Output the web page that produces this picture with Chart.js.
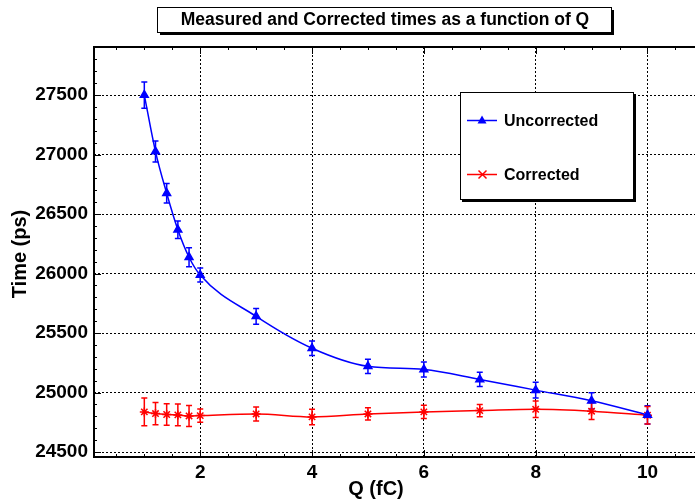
<!DOCTYPE html>
<html lang="en">
<head>
  <meta charset="UTF-8" />
  <title>Measured and Corrected times as a function of Q</title>
  <script src="https://cdn.jsdelivr.net/npm/chart.js"></script>
  <style>
    body{margin:0;padding:0;background:#fff;overflow:hidden}
    canvas{display:block}
  </style>
</head>
<body>
<canvas id="grafico" width="695" height="502"></canvas>
<script>
/* ---------- data ---------- */
const qValues        = [1, 1.2, 1.4, 1.6, 1.8, 2, 3, 4, 5, 6, 7, 8, 9, 10];
const uncorrected    = [27500, 27025, 26675, 26368, 26137, 25987, 25640, 25372, 25220, 25194, 25110, 25020, 24930, 24812];
const uncorrectedErr = [110, 88, 82, 74, 80, 59, 67, 60, 60, 63, 60, 66, 69, 77];
const corrected      = [24837, 24823, 24815, 24812, 24803, 24806, 24820, 24795, 24820, 24837, 24848, 24859, 24843, 24809];
const correctedErr   = [116, 94, 91, 91, 88, 56, 59, 65, 52, 56, 52, 69, 70, 73];

const xTicks = [2, 4, 6, 8, 10];
const yTicks = [24500, 25000, 25500, 26000, 26500, 27000, 27500];

const FONT = '"Liberation Sans", Arial, Helvetica, sans-serif';

function puntos(ys){ return qValues.map((q,i)=>({x:q, y:ys[i]})); }

/* ---------- frame, ticks, error bars, title, legend ---------- */
const marco = {
  id:'marco',
  beforeDatasetsDraw(chart){
    const {ctx, scales:{x, y}} = chart;
    const series = [[uncorrected, uncorrectedErr, '#0000ff'], [corrected, correctedErr, '#ff0000']];
    ctx.save();
    ctx.lineWidth = 1.5;
    series.forEach(([vals, errs, col])=>{
      ctx.strokeStyle = col;
      qValues.forEach((q,i)=>{
        const px = x.getPixelForValue(q);
        const y1 = y.getPixelForValue(vals[i]-errs[i]);
        const y2 = y.getPixelForValue(vals[i]+errs[i]);
        ctx.beginPath();
        ctx.moveTo(px, y1); ctx.lineTo(px, y2);
        ctx.moveTo(px-3, y1); ctx.lineTo(px+3, y1);
        ctx.moveTo(px-3, y2); ctx.lineTo(px+3, y2);
        ctx.stroke();
      });
    });
    ctx.restore();
  },
  afterDraw(chart){
    const {ctx, chartArea:a, scales:{x, y}} = chart;
    ctx.save();
    ctx.strokeStyle = '#000';

    // ticks (inward)
    ctx.lineWidth = 1;
    ctx.beginPath();
    for(let v=0.5; v<=10.85; v+=0.5){
      const px = Math.round(x.getPixelForValue(v))+0.5;
      const len = (Math.abs(v/2-Math.round(v/2))<1e-6) ? 7 : 3;
      ctx.moveTo(px, a.bottom); ctx.lineTo(px, a.bottom-len);
      ctx.moveTo(px, a.top); ctx.lineTo(px, a.top+len);
    }
    for(let v=24500; v<=27900; v+=100){
      const py = Math.round(y.getPixelForValue(v))+0.5;
      const len = (v%500===0) ? 7 : 3;
      ctx.moveTo(a.left, py); ctx.lineTo(a.left+len, py);
    }
    ctx.stroke();

    // axes lines
    ctx.lineWidth = 2;
    ctx.beginPath();
    ctx.moveTo(a.left, a.top); ctx.lineTo(a.right+2, a.top);
    ctx.moveTo(a.left, a.top-1); ctx.lineTo(a.left, a.bottom+1);
    ctx.moveTo(a.left-1, a.bottom); ctx.lineTo(a.right+2, a.bottom);
    ctx.stroke();

    // axis titles
    ctx.fillStyle = '#000';
    ctx.font = 'bold 20px ' + FONT;
    ctx.textAlign = 'center';
    ctx.textBaseline = 'middle';
    ctx.fillText('Q (fC)', 376, 489);
    ctx.save();
    ctx.translate(20, 254);
    ctx.rotate(-Math.PI/2);
    ctx.fillText('Time (ps)', 0, 0);
    ctx.restore();

    // title box
    ctx.fillStyle = '#000';
    ctx.fillRect(160, 10, 454, 25);
    ctx.fillStyle = '#fff';
    ctx.fillRect(158, 8, 454, 25);
    ctx.lineWidth = 1;
    ctx.strokeRect(157.5, 7.5, 454, 25);
    ctx.fillStyle = '#000';
    ctx.font = 'bold 17.5px ' + FONT;
    ctx.fillText('Measured and Corrected times as a function of Q', 385, 20.5);

    // legend box
    ctx.fillStyle = '#000';
    ctx.fillRect(462, 94, 174, 108);
    ctx.fillStyle = '#fff';
    ctx.fillRect(460, 92, 174, 108);
    ctx.strokeRect(460.5, 92.5, 173, 107);

    const items = chart.data.datasets;
    const filas = [120.5, 174.5];
    items.forEach((ds, i)=>{
      const yy = filas[i];
      ctx.strokeStyle = ds.borderColor;
      ctx.lineWidth = 1.5;
      ctx.beginPath(); ctx.moveTo(467, yy); ctx.lineTo(497, yy); ctx.stroke();
      ctx.fillStyle = ds.borderColor;
      ctx.beginPath();
      if(i===0){
        ctx.moveTo(482, yy-5); ctx.lineTo(486.5, yy+3); ctx.lineTo(477.5, yy+3); ctx.closePath(); ctx.fill();
      }else{
        ctx.moveTo(478.5, yy-4); ctx.lineTo(486.5, yy+4);
        ctx.moveTo(486.5, yy-4); ctx.lineTo(478.5, yy+4);
        ctx.stroke();
      }
      ctx.fillStyle = '#000';
      ctx.font = 'bold 16px ' + FONT;
      ctx.textAlign = 'left';
      ctx.fillText(ds.label, 504, yy+1);
    });
    ctx.restore();
  }
};

new Chart(document.getElementById('grafico'), {
  type:'line',
  data:{
    datasets:[
      {label:'Uncorrected', data:puntos(uncorrected), borderColor:'#0000ff', backgroundColor:'#0000ff',
       borderWidth:1.5, pointStyle:'triangle', pointRadius:4.5, cubicInterpolationMode:'monotone'},
      {label:'Corrected', data:puntos(corrected), borderColor:'#ff0000', backgroundColor:'#ff0000',
       borderWidth:1.5, pointStyle:'star', pointRadius:4.5, pointBorderWidth:1.5, cubicInterpolationMode:'monotone'}
    ]
  },
  options:{
    responsive:false,
    animation:false,
    devicePixelRatio:1,
    layout:{autoPadding:false, padding:{top:47, right:0, left:0, bottom:0}},
    plugins:{legend:{display:false}, title:{display:false}, tooltip:{enabled:false}},
    scales:{
      x:{
        type:'linear', min:0.1, max:10.85,
        afterBuildTicks:s=>{ s.ticks = xTicks.map(v=>({value:v})); },
        afterFit:s=>{ s.height = 45; s.paddingLeft = 0; s.paddingRight = 0; },
        grid:{color:'#000', lineWidth:1, drawTicks:false},
        border:{display:false, dash:[2,2]},
        ticks:{padding:4, color:'#000', font:{family:FONT, size:19, weight:'bold'}, maxRotation:0,
               callback:v=>String(v)}
      },
      y:{
        type:'linear', min:24458, max:27904,
        afterBuildTicks:s=>{ s.ticks = yTicks.map(v=>({value:v})); },
        afterFit:s=>{ s.width = 94; s.paddingTop = 0; s.paddingBottom = 0; },
        grid:{color:'#000', lineWidth:1, drawTicks:false},
        border:{display:false, dash:[2,2]},
        ticks:{padding:6, color:'#000', font:{family:FONT, size:19, weight:'bold'},
               callback:v=>String(v)}
      }
    }
  },
  plugins:[marco]
});
</script>
</body>
</html>
